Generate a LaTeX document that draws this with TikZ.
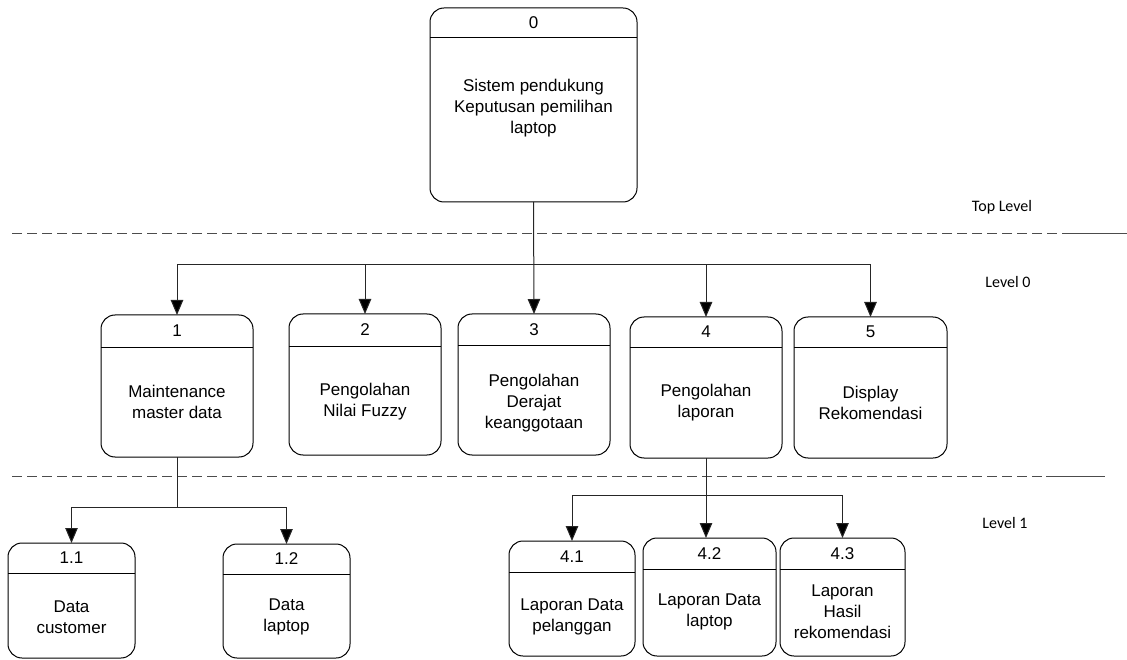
\documentclass[tikz,border=0pt]{standalone}
\usepackage{fontspec}
\setmainfont{Liberation Sans}
\newfontfamily\lvlfont{Carlito}
\usetikzlibrary{arrows.meta}

% process box: name, x1, y1, x2, y2, header line y, number, text, text centre y
\newcommand{\procbox}[9]{%
  \node[pbox, minimum width={(#4-#2)*1pt}, minimum height={(#5-#3)*1pt}]
    (#1) at ({(#2+#4)/2},{(#3+#5)/2}) {};
  \draw[hdr] (#1.west |- 0,#6) -- (#1.east |- 0,#6);
  \node[num] (#1-num) at ({(#2+#4)/2},{(#3+#6)/2}) {#7};
  \node[body] (#1-txt) at ({(#2+#4)/2},#9) {#8};
}

\begin{document}
\begin{tikzpicture}[x=1pt,y=-1pt,
  pbox/.style={draw=black, line width=1pt, rounded corners=14pt,
    inner sep=0pt, outer sep=0pt},
  hdr/.style={draw=black, line width=1pt},
  num/.style={font=\fontsize{17}{20}\selectfont, inner sep=0pt},
  body/.style={font=\fontsize{17}{21}\selectfont, align=center, inner sep=0pt},
  lvl/.style={font=\lvlfont\fontsize{16}{19}\selectfont, inner sep=0pt},
  link/.style={draw=black!85, line width=1pt},
  arr/.style={link, -{Triangle[width=12.5pt,length=15pt,fill=black]}},
  sep/.style={draw=black!70, line width=0.8pt, dash pattern=on 10pt off 5pt},
  septail/.style={draw=black!70, line width=0.6pt}]

\useasboundingbox (0,0) rectangle (1127,660);

% level separators
\draw[sep] (12,233) -- (1070,233);
\draw[septail] (1070,233) -- (1127,233);
\draw[sep] (12,476) -- (1046,476);
\draw[septail] (1046,476) -- (1105,476);

\node[lvl] (ltop) at (1002,207) {Top Level};
\node[lvl] (l0) at (1008,282) {Level 0};
\node[lvl] (l1) at (1005,523) {Level 1};

% top level
\procbox{n0}{430}{8}{637}{202}{38}{0}{\fontsize{17}{20}\selectfont Sistem pendukung\\Keputusan pemilihan\\laptop}{108}

% level 0
\procbox{n1}{101}{315}{253}{457}{347}{1}{Maintenance\\master data}{402}
\procbox{n2}{289}{314}{441}{455}{346}{2}{Pengolahan\\Nilai Fuzzy}{402}
\procbox{n3}{458}{314}{610}{455}{345}{3}{Pengolahan\\Derajat\\keanggotaan}{403}
\procbox{n4}{630}{317}{782}{458}{347}{4}{Pengolahan\\laporan}{403}
\procbox{n5}{794}{317}{947}{458}{347}{5}{Display\\Rekomendasi}{403}

% level 1
\procbox{n11}{8}{543}{135}{658}{573}{1.1}{Data\\customer}{617}
\procbox{n12}{223}{544}{350}{658}{574}{1.2}{Data\\laptop}{617}
\procbox{n41}{509}{541}{635}{656}{572}{4.1}{Laporan Data\\pelanggan}{617}
\procbox{n42}{643}{538}{776}{656}{569}{4.2}{Laporan Data\\laptop}{612}
\procbox{n43}{780}{538}{905}{656}{569}{4.3}{Laporan\\Hasil\\rekomendasi}{612}

% top level to level 0
\coordinate (busL) at (n1.north |- 0,265);
\coordinate (busR) at (n5.north |- 0,265);
\draw[link] (busL) -- (busR);
\draw[arr] (n0.south) -- (n3.north);
\draw[arr] (busL) -- (n1.north);
\draw[arr] (n2.north |- busL) -- (n2.north);
\draw[arr] (n4.north |- busL) -- (n4.north);
\draw[arr] (busR) -- (n5.north);

% process 1 to its children
\coordinate (j1) at (n1.south |- 0,507);
\draw[link] (n1.south) -- (j1);
\draw[arr] (j1) -| (n11.north);
\draw[arr] (j1) -| (n12.north);

% process 4 to its children
\coordinate (j4) at (n4.south |- 0,495);
\draw[arr] (n4.south) -- (n4.south |- n42.north);
\draw[arr] (j4) -| (n41.north);
\draw[arr] (j4) -| (n43.north);

\end{tikzpicture}
\end{document}
